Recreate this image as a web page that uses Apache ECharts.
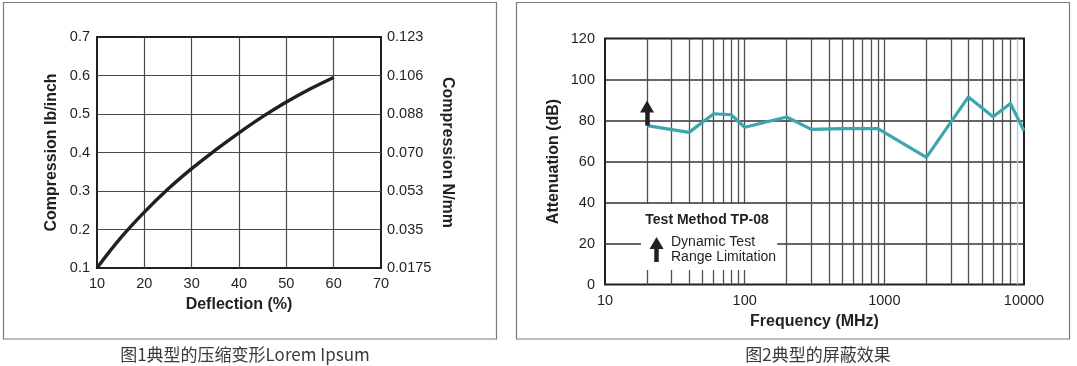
<!DOCTYPE html>
<html>
<head>
<meta charset="utf-8">
<script src="https://cdn.jsdelivr.net/npm/echarts@6/dist/echarts.min.js"></script>
<style>
html,body{margin:0;padding:0;background:#fff;}
#chart{width:1077px;height:366px;}
</style>
</head>
<body>
<div id="chart"></div>
<script>
// ---- Left chart data ----
const deflection = [10, 15, 20, 25, 30, 35, 40, 45, 50, 55, 60];
const compression = [0.1, 0.178, 0.245, 0.305, 0.358, 0.406, 0.451, 0.493, 0.531, 0.565, 0.595];
const rightTickLabels = ['0.0175', '0.035', '0.053', '0.070', '0.088', '0.106', '0.123'];

// ---- Right chart data ----
const frequency = [20, 40, 60, 80, 100, 200, 300, 500, 900, 2000, 4000, 6000, 8000, 10000];
const attenuation = [77.5, 74.2, 83.3, 82.8, 76.7, 81.7, 75.7, 76, 76, 62, 91.5, 81.8, 88.3, 75];
const minorFreqs = [20, 30, 40, 50, 60, 70, 80, 90, 200, 300, 400, 500, 600, 700, 800, 900,
                    2000, 3000, 4000, 5000, 6000, 7000, 8000, 9000];
const arrowMarks = [[20, 77.5, 86.8], [23.4, 11, 20.2]];

const captions = ['图1典型的压缩变形Lorem Ipsum', '图2典型的屏蔽效果'];
const axisNames = ['Deflection (%)', 'Compression Ib/inch', 'Compression N/mm', 'Frequency (MHz)', 'Attenuation (dB)'];

const FONT = '"Liberation Sans", Arial, sans-serif';
const INK = '#231f20';
const tickLabel = {color: INK, fontSize: 14.5, fontFamily: FONT};
const nameStyle = {color: INK, fontSize: 16, fontWeight: 'bold', fontFamily: FONT};

const chart = echarts.init(document.getElementById('chart'), null, {renderer: 'canvas'});

const option = {
  animation: false,
  backgroundColor: '#fff',
  grid: [
    {left: 97, right: 696, top: 37, bottom: 98, show: true, borderColor: INK, borderWidth: 2,
     backgroundColor: 'transparent', outerBoundsMode: 'none', containLabel: false},
    {left: 605, right: 53, top: 38.5, bottom: 81.5, show: true, borderColor: INK, borderWidth: 2,
     backgroundColor: 'transparent', outerBoundsMode: 'none', containLabel: false}
  ],
  xAxis: [
    {gridIndex: 0, type: 'value', min: 10, max: 70, interval: 10,
     name: axisNames[0], nameLocation: 'middle', nameGap: 29, nameTextStyle: nameStyle,
     axisLine: {show: false}, axisTick: {show: false},
     axisLabel: Object.assign({margin: 8}, tickLabel),
     splitLine: {show: true, showMinLine: false, showMaxLine: false, lineStyle: {color: '#4a4a4a', width: 1.2}}},
    {gridIndex: 1, type: 'log', logBase: 10, min: 10, max: 10000,
     name: axisNames[3], nameLocation: 'middle', nameGap: 28, nameTextStyle: nameStyle,
     axisLine: {show: false}, axisTick: {show: false},
     axisLabel: Object.assign({margin: 9, formatter: v => String(Math.round(v))}, tickLabel),
     splitLine: {show: true, showMinLine: false, showMaxLine: false, lineStyle: {color: '#4f4f4f', width: 1.3}},
     minorTick: {show: false}, minorSplitLine: {show: false}}
  ],
  yAxis: [
    {gridIndex: 0, type: 'value', min: 0.1, max: 0.7, interval: 0.1,
     name: axisNames[1], nameLocation: 'middle', nameGap: 37, nameRotate: 90, nameTextStyle: nameStyle,
     axisLine: {show: false}, axisTick: {show: false},
     axisLabel: Object.assign({margin: 7, formatter: v => v.toFixed(1)}, tickLabel),
     splitLine: {show: true, showMinLine: false, showMaxLine: false, lineStyle: {color: '#4a4a4a', width: 1.2}}},
    {gridIndex: 0, type: 'value', min: 0.1, max: 0.7, interval: 0.1, position: 'right',
     name: axisNames[2], nameLocation: 'middle', nameGap: 58, nameRotate: -90, nameTextStyle: nameStyle,
     axisLine: {show: false}, axisTick: {show: false},
     axisLabel: Object.assign({margin: 6, formatter: v => rightTickLabels[Math.round((v - 0.1) / 0.1)]}, tickLabel),
     splitLine: {show: false}},
    {gridIndex: 1, type: 'value', min: 0, max: 120, interval: 20,
     name: axisNames[4], nameLocation: 'middle', nameGap: 43, nameRotate: 90, nameTextStyle: nameStyle,
     axisLine: {show: false}, axisTick: {show: false},
     axisLabel: Object.assign({margin: 10}, tickLabel),
     splitLine: {show: true, showMinLine: false, showMaxLine: false, lineStyle: {color: '#333', width: 1.5}}}
  ],
  series: [
    {type: 'line', xAxisIndex: 0, yAxisIndex: 0, smooth: 0.4, symbol: 'none', z: 10,
     data: deflection.map((d, i) => [d, compression[i]]),
     lineStyle: {color: INK, width: 3.4}},
    {type: 'line', xAxisIndex: 1, yAxisIndex: 2, symbol: 'none', z: 10,
     data: frequency.map((f, i) => [f, attenuation[i]]),
     lineStyle: {color: '#3ba6b0', width: 3.2},
     markLine: {silent: true, symbol: 'none', z: 1, label: {show: false},
       data: minorFreqs.map(f => ({xAxis: f, lineStyle: {color: f === 9000 ? '#b7c6e6' : '#4f4f4f', width: 1.3, type: 'solid'}}))},
     markArea: {silent: true, z: 2, itemStyle: {color: '#ffffff', opacity: 1}, label: {show: false},
       data: [[{coord: [18.1, 7.1]}, {coord: [171, 39.3]}]]}},
    {type: 'line', xAxisIndex: 1, yAxisIndex: 2, symbol: 'none', data: [], z: 11,
     markLine: {silent: true, z: 12, symbol: ['none', 'triangle'], symbolSize: [14, 12], label: {show: false},
       lineStyle: {color: INK, width: 4.5, type: 'solid'},
       data: arrowMarks.map(a => [{coord: [a[0], a[1]]}, {coord: [a[0], a[2]]}])}}
  ],
  graphic: [
    {type: 'rect', z: 100, shape: {x: 3.5, y: 2.5, width: 493, height: 336.5}, style: {fill: 'none', stroke: '#7a7a7a', lineWidth: 1.2}},
    {type: 'rect', z: 100, shape: {x: 516.5, y: 2.5, width: 553, height: 336.5}, style: {fill: 'none', stroke: '#7a7a7a', lineWidth: 1.2}},
    {type: 'text', z: 100, x: 707, y: 220, style: {text: 'Test Method TP-08', font: 'bold 14px ' + FONT, fill: INK, align: 'center', verticalAlign: 'middle'}},
    {type: 'text', z: 100, x: 671, y: 249.5, style: {text: 'Dynamic Test\nRange Limitation', font: '14px ' + FONT, lineHeight: 14.5, fill: INK, align: 'left', verticalAlign: 'middle'}},
    {type: 'text', z: 100, x: 245, y: 354.5, style: {text: captions[0], font: '17px "Noto Sans CJK SC", sans-serif', fill: '#3a3a3a', align: 'center', verticalAlign: 'middle'}},
    {type: 'text', z: 100, x: 818, y: 354.5, style: {text: captions[1], font: '17px "Noto Sans CJK SC", sans-serif', fill: '#3a3a3a', align: 'center', verticalAlign: 'middle'}}
  ]
};
chart.setOption(option);
</script>
</body>
</html>
